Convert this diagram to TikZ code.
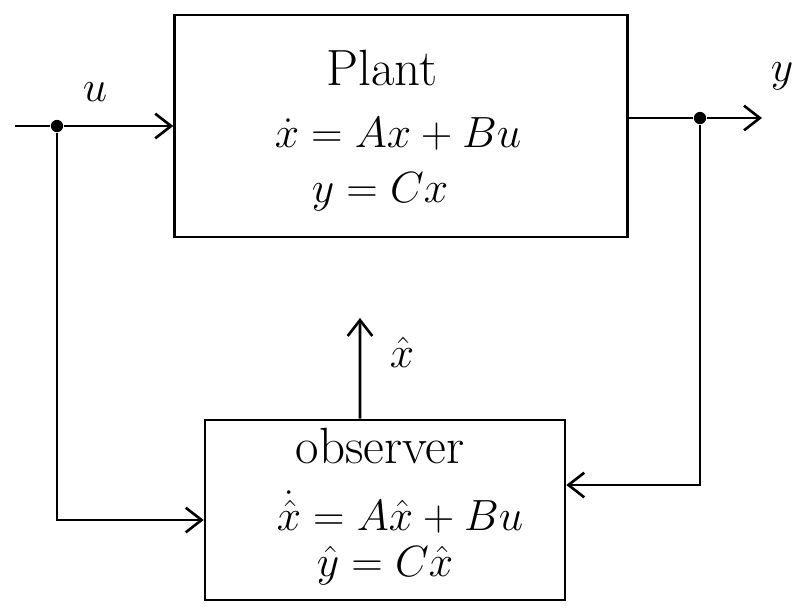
\documentclass[tikz,border=0pt]{standalone}
\usetikzlibrary{arrows.meta,calc}
\begin{document}
\begin{tikzpicture}[x=0.02cm,y=-0.02cm,
  line width=1.5pt,
  block/.style={draw,rectangle,inner sep=0pt,align=center},
  conn/.style={-{Straight Barb[length=9pt,width=14pt,line width=1.5pt]}},
  junction/.style={circle,fill,inner sep=0pt,minimum size=7pt},
  lbl/.style={font=\fontsize{29}{32}\selectfont,inner sep=1pt},
  eq/.style={font=\fontsize{26}{30}\selectfont,inner sep=1pt}]
\useasboundingbox (0,0) rectangle (799,610);
% plant block
\node[block,minimum width=9.06cm,minimum height=4.44cm] (plant) at (401,126) {};
\node[lbl] (plantname) at (382,68) {Plant};
\node[eq] (planteq1) at (398,134) {$\dot{x} = Ax + Bu$};
\node[eq] (planteq2) at (380,192) {$y = Cx$};
% observer block
\node[block,minimum width=7.2cm,minimum height=3.6cm] (obs) at (385,510) {};
\node[lbl] (obsname) at (380,446) {observer};
\node[eq] (obseq1) at (400,512) {$\dot{\hat{x}} = A\hat{x} + Bu$};
\node[eq] (obseq2) at (385,566) {$\hat{y} = C\hat{x}$};
% input
\coordinate (uin) at (15,126);
\node[junction] (du) at (57,126) {};
\node[lbl] (ulabel) at (95,92) {$u$};
\draw (uin) -- (du);
\draw[conn] (du) -- (plant.west);
% output
\node[junction] (dy) at (700,118) {};
\coordinate (yout) at (762,118);
\node[lbl] (ylabel) at (782,76) {$y$};
\draw (plant.east |- dy) -- (dy);
\draw[conn] (dy) -- (yout);
% feedback to observer
\draw[conn] (du) |- ([yshift=-0.2cm]obs.west);
\draw[conn] (dy) |- ([yshift=0.5cm]obs.east);
% estimate output
\coordinate (xhattop) at (360,318);
\draw[conn] ([xshift=-0.5cm]obs.north) -- (xhattop);
\node[lbl] (xhatlabel) at (402,352) {$\hat{x}$};
\end{tikzpicture}
\end{document}
